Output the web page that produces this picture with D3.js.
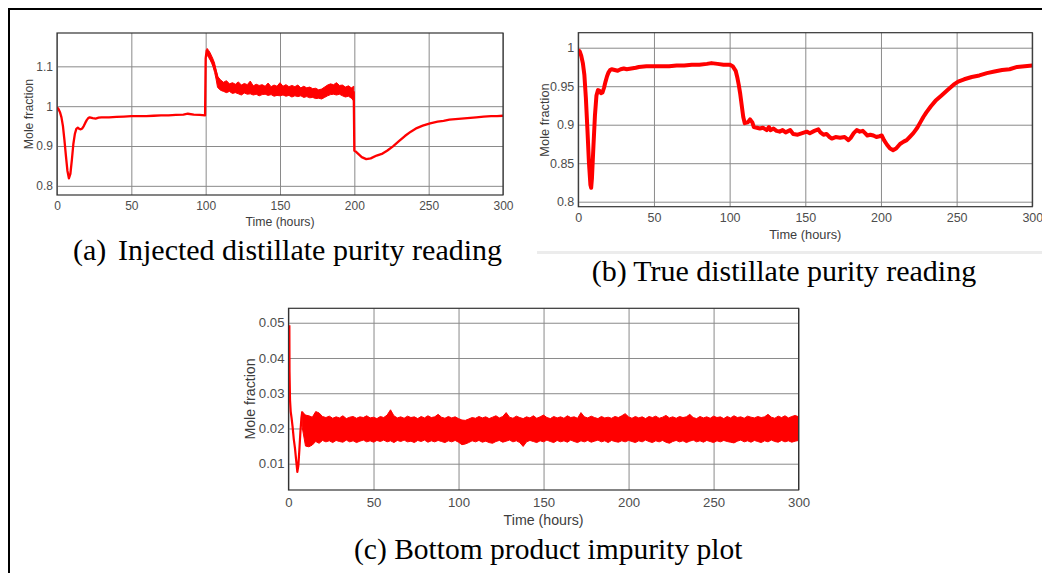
<!DOCTYPE html>
<html>
  <head>
    <meta charset="UTF-8" />
    <script src="https://d3js.org/d3.v7.min.js"></script>
    <style>
      body { margin: 0; background: #fff; }
      svg { display: block; }
    </style>
  </head>
  <body>
    <div id="chart"></div>
    <script>
      // x axis shared by all three panels
      const xTicks = [0, 50, 100, 150, 200, 250, 300];
      const xTickLabels = ["0", "50", "100", "150", "200", "250", "300"];

      // (a) injected distillate purity
      const aTime = [0, 1, 2, 3, 4, 5, 6, 7, 8, 9, 10, 11, 12, 13, 14, 15, 16, 17, 18, 19, 20, 21, 22, 24, 26, 28, 30, 35, 40, 45, 50, 55, 60, 65, 70, 75, 80, 85, 88, 92, 96, 99.6,
        100, 100.7, 101.5, 102.5, 103.5, 104.5, 105.5, 106.5, 107.5, 108.5, 110, 120, 140, 160, 175, 185, 199.6,
        200, 201, 203, 205, 208, 211, 215, 219, 222, 226, 230, 234, 238, 242, 246, 251, 256, 260, 264, 270, 276, 282, 287, 292, 296, 300];
      const aValue = [0.997, 0.993, 0.985, 0.972, 0.95, 0.915, 0.875, 0.838, 0.819, 0.83, 0.865, 0.905, 0.93, 0.943, 0.946, 0.943, 0.942, 0.944, 0.95, 0.958, 0.965, 0.97, 0.972, 0.97, 0.969, 0.971, 0.972, 0.972, 0.973, 0.974, 0.975, 0.975, 0.975, 0.976, 0.977, 0.977, 0.978, 0.979, 0.981, 0.979, 0.978, 0.977,
        1.12, 1.14, 1.135, 1.128, 1.118, 1.112, 1.104, 1.092, 1.078, 1.062, 1.055, 1.046, 1.041, 1.038, 1.03, 1.042, 1.035,
        0.888, 0.886, 0.879, 0.872, 0.867, 0.869, 0.876, 0.881, 0.888, 0.899, 0.912, 0.925, 0.936, 0.945, 0.951, 0.957, 0.961, 0.963, 0.966, 0.968, 0.97, 0.972, 0.974, 0.975, 0.975, 0.976];
      const aBandTime = [101, 102, 103, 104, 105, 106, 107, 108, 110, 112, 114, 116, 118, 120, 122, 124, 126, 128, 130, 132, 134, 136, 138, 140, 142, 144, 146, 148, 150, 152, 154,
        156, 158, 160, 162, 164, 166, 168, 170, 172, 174, 176, 178, 180, 182, 184, 186, 188, 190, 192, 194, 196, 198, 199.6];
      const aBandHigh = [1.145, 1.14, 1.134, 1.126, 1.118, 1.108, 1.09, 1.075, 1.066, 1.06, 1.064, 1.056, 1.059, 1.055, 1.061, 1.053, 1.057, 1.054, 1.063, 1.051, 1.055, 1.052, 1.054, 1.05, 1.058, 1.049, 1.053, 1.05, 1.059, 1.05, 1.054,
        1.049, 1.052, 1.049, 1.053, 1.046, 1.05, 1.046, 1.048, 1.044, 1.045, 1.041, 1.043, 1.048, 1.053, 1.056, 1.054, 1.059, 1.052, 1.053, 1.048, 1.051, 1.046, 1.05];
      const aBandLow = [1.128, 1.122, 1.116, 1.108, 1.098, 1.085, 1.068, 1.047, 1.04, 1.037, 1.034, 1.037, 1.032, 1.034, 1.031, 1.028, 1.033, 1.03, 1.031, 1.028, 1.03, 1.026, 1.029, 1.03, 1.027, 1.029, 1.025, 1.027, 1.026, 1.028, 1.025,
        1.027, 1.023, 1.026, 1.024, 1.026, 1.022, 1.024, 1.021, 1.022, 1.019, 1.02, 1.018, 1.022, 1.026, 1.029, 1.03, 1.028, 1.03, 1.026, 1.023, 1.025, 1.02, 1.013];
      const aYTicks = [0.8, 0.9, 1, 1.1];
      const aYTickLabels = ["0.8", "0.9", "1", "1.1"];

      // (b) true distillate purity
      const bTime = [0, 1, 2, 3, 4, 5, 6, 7, 8, 8.5, 9, 10, 11, 12, 13, 14, 15, 16, 17, 18, 19, 20, 21, 22, 24, 26, 28, 30, 32, 35, 38, 40, 45, 50, 55, 60, 65, 70, 75, 80, 85, 88, 92, 96, 100,
        102, 104, 105, 106, 107, 108, 109, 110, 112, 113.5, 115, 116, 118, 120, 122, 124.5, 126, 127, 129, 131, 133, 135, 137, 140, 142, 145, 148, 151, 153, 156, 158.6, 160, 162, 164, 166, 167.5,
        170, 173, 176, 178.5, 180, 182, 184, 186, 188, 189.5, 191, 193, 195, 197, 199, 200.5, 202, 204, 206, 208, 210, 212.6, 215, 217, 219, 221.4, 224, 226, 228, 230, 233, 236, 240, 244, 248,
        251, 255, 260, 265, 270, 275, 280, 285, 290, 295, 300];
      const bValue = [0.997, 0.995, 0.989, 0.98, 0.965, 0.935, 0.895, 0.852, 0.822, 0.818, 0.83, 0.872, 0.912, 0.938, 0.945, 0.944, 0.941, 0.942, 0.948, 0.956, 0.963, 0.968, 0.971, 0.972, 0.971, 0.97, 0.972, 0.973, 0.972, 0.973, 0.974, 0.975, 0.976, 0.976, 0.976, 0.976, 0.977, 0.977, 0.978, 0.978, 0.979, 0.98, 0.979, 0.978, 0.978,
        0.976, 0.97, 0.962, 0.952, 0.94, 0.925, 0.91, 0.902, 0.903, 0.907, 0.903, 0.897, 0.896, 0.895, 0.896, 0.893, 0.897, 0.893, 0.895, 0.892, 0.891, 0.893, 0.89, 0.893, 0.888, 0.887, 0.889, 0.891, 0.889, 0.892, 0.894, 0.89, 0.887, 0.888, 0.884, 0.882,
        0.884, 0.883, 0.884, 0.88, 0.883, 0.889, 0.893, 0.891, 0.892, 0.889, 0.886, 0.887, 0.886, 0.884, 0.885, 0.886, 0.88, 0.874, 0.869, 0.867, 0.869, 0.875, 0.878, 0.88, 0.884, 0.889, 0.896, 0.903, 0.91, 0.916, 0.924, 0.931, 0.938, 0.945, 0.952,
        0.956, 0.959, 0.962, 0.964, 0.967, 0.969, 0.971, 0.972, 0.975, 0.976, 0.977];
      const bYTicks = [0.8, 0.85, 0.9, 0.95, 1];
      const bYTickLabels = ["0.8", "0.85", "0.9", "0.95", "1"];

      // (c) bottom product impurity
      const cTime = [0.5, 0.6, 0.9, 1.3, 1.8, 2.4, 3.1, 3.8, 4.5, 5.2, 5.8, 6.4, 7, 7.6, 8.1];
      const cValue = [0.0493, 0.036, 0.028, 0.0248, 0.023, 0.0205, 0.017, 0.0144, 0.011, 0.0077, 0.0095, 0.014, 0.019, 0.023, 0.0248];
      const cBandTime = [8, 10, 12, 14, 16, 18, 20, 22, 24, 26, 28, 30, 32, 34, 36, 38, 40, 42, 44, 46, 48, 50, 52, 54, 56, 58, 60, 62, 64, 66, 68, 70, 72, 74, 76, 78,
        80, 82, 84, 86, 88, 90, 92, 94, 96, 98, 100, 102, 104, 106, 108, 110, 112, 114, 116, 118, 120, 122, 124, 126, 128, 130, 132, 134, 136, 138, 140, 142, 144, 146, 148,
        150, 152, 154, 156, 158, 160, 162, 164, 166, 168, 170, 172, 174, 176, 178, 180, 182, 184, 186, 188, 190, 192, 194, 196, 198, 200, 202, 204, 206, 208, 210, 212, 214, 216, 218,
        220, 222, 224, 226, 228, 230, 232, 234, 236, 238, 240, 242, 244, 246, 248, 250, 252, 254, 256, 258, 260, 262, 264, 266, 268, 270, 272, 274, 276, 278, 280, 282, 284, 286, 288,
        290, 292, 294, 296, 298, 300];
      const cBandHigh = [0.0248, 0.0238, 0.0236, 0.0232, 0.0248, 0.0244, 0.0234, 0.0231, 0.0235, 0.0229, 0.0233, 0.023, 0.0236, 0.0228, 0.0232, 0.0234, 0.0229, 0.0233, 0.0231, 0.0236, 0.023, 0.0232, 0.0228, 0.0234, 0.0231, 0.0238, 0.0253, 0.0236, 0.023, 0.0233, 0.0229, 0.0235, 0.0231, 0.0233, 0.0228, 0.0234,
        0.023, 0.0236, 0.0231, 0.0233, 0.024, 0.0232, 0.0229, 0.0234, 0.023, 0.0233, 0.0228, 0.0224, 0.0223, 0.0227, 0.0231, 0.0229, 0.0234, 0.023, 0.0233, 0.0228, 0.0232, 0.0236, 0.023, 0.0234, 0.0245, 0.0232, 0.0229, 0.0235, 0.0231, 0.0228, 0.0233, 0.023, 0.0236, 0.0229, 0.0233,
        0.0238, 0.0231, 0.0228, 0.0234, 0.023, 0.0233, 0.0229, 0.0236, 0.0231, 0.0233, 0.0229, 0.0245, 0.0233, 0.023, 0.0235, 0.0231, 0.0228, 0.0234, 0.023, 0.0232, 0.0229, 0.0234, 0.0231, 0.0236, 0.0242, 0.0233, 0.0229, 0.0234, 0.023, 0.0233, 0.0228, 0.0234, 0.0231, 0.0235, 0.0229,
        0.0232, 0.0237, 0.023, 0.0233, 0.0229, 0.0234, 0.0231, 0.0233, 0.024, 0.0231, 0.0228, 0.0234, 0.023, 0.0233, 0.0229, 0.0235, 0.0231, 0.0233, 0.0228, 0.0234, 0.023, 0.0236, 0.0231, 0.0233, 0.0229, 0.0235, 0.0232, 0.023, 0.0234, 0.0231, 0.0233, 0.024, 0.0232, 0.0229, 0.0235,
        0.0231, 0.0236, 0.023, 0.0234, 0.0237, 0.0233];
      const cBandLow = [0.0205, 0.015, 0.0148, 0.0153, 0.0163, 0.0158, 0.0166, 0.0162, 0.0165, 0.016, 0.0166, 0.0163, 0.0161, 0.0167, 0.0162, 0.0165, 0.016, 0.0164, 0.0167, 0.0162, 0.0165, 0.0161, 0.0166, 0.0163, 0.0167, 0.0162, 0.0165, 0.016, 0.0166, 0.0163, 0.0167, 0.0162, 0.0164, 0.016, 0.0166, 0.0163,
        0.0167, 0.0161, 0.0165, 0.0162, 0.0166, 0.0163, 0.016, 0.0165, 0.0162, 0.0166, 0.0161, 0.0154, 0.0156, 0.016, 0.0165, 0.0162, 0.0166, 0.0161, 0.0164, 0.016, 0.0158, 0.0163, 0.0166, 0.0161, 0.0164, 0.0167, 0.0162, 0.0165, 0.016, 0.0149, 0.0162, 0.0166, 0.0163, 0.016, 0.0165,
        0.0162, 0.0167, 0.0163, 0.016, 0.0166, 0.0162, 0.0165, 0.0161, 0.0167, 0.0163, 0.016, 0.0165, 0.0162, 0.0166, 0.0161, 0.0164, 0.0167, 0.0162, 0.0165, 0.016, 0.0166, 0.0163, 0.0161, 0.0165, 0.0162, 0.0166, 0.0163, 0.016, 0.0165, 0.0162, 0.0167, 0.0163, 0.016, 0.0165, 0.0162,
        0.0166, 0.0161, 0.0158, 0.0163, 0.0166, 0.0162, 0.0165, 0.016, 0.0164, 0.0167, 0.0162, 0.0165, 0.0161, 0.0166, 0.0163, 0.016, 0.0165, 0.0162, 0.0166, 0.0163, 0.0161, 0.0159, 0.0164, 0.0167, 0.0162, 0.0165, 0.0161, 0.0166, 0.0163, 0.016, 0.0165, 0.0162, 0.0167, 0.0163, 0.0161,
        0.0166, 0.0162, 0.0165, 0.0161, 0.0164, 0.0166];
      const cYTicks = [0.01, 0.02, 0.03, 0.04, 0.05];
      const cYTickLabels = ["0.01", "0.02", "0.03", "0.04", "0.05"];

      const yLabel = "Mole fraction";
      const xLabel = "Time (hours)";

      const W = 1042, H = 573;
      const svg = d3.select("#chart").append("svg").attr("width", W).attr("height", H);

      // outer frame (only top and left edges are in view)
      svg.append("path")
        .attr("d", "M9," + H + "V9H" + W)
        .attr("fill", "none")
        .attr("stroke", "#000")
        .attr("stroke-width", 2);

      // faint rule under panel (b)
      svg.append("rect")
        .attr("x", 537).attr("y", 251)
        .attr("width", W - 537).attr("height", 3)
        .attr("fill", "#ececec");

      function drawPanel(p) {
        const x = d3.scaleLinear().domain([0, 300]).range([p.left, p.right]);
        const y = d3.scaleLinear().domain(p.yDomain).range([p.bottom, p.top]);
        const g = svg.append("g");

        // grid
        g.append("g")
          .attr("transform", "translate(0," + p.bottom + ")")
          .call(d3.axisBottom(x).tickValues(xTicks).tickSize(-(p.bottom - p.top)).tickFormat(""))
          .call(s => s.select(".domain").remove())
          .selectAll("line").attr("stroke", "#8a8a8a").attr("stroke-width", 1);
        g.append("g")
          .attr("transform", "translate(" + p.left + ",0)")
          .call(d3.axisLeft(y).tickValues(p.yTicks).tickSize(-(p.right - p.left)).tickFormat(""))
          .call(s => s.select(".domain").remove())
          .selectAll("line").attr("stroke", "#8a8a8a").attr("stroke-width", 1);

        // tick labels
        const xAx = g.append("g")
          .attr("transform", "translate(0," + p.bottom + ")")
          .call(d3.axisBottom(x).tickValues(xTicks).tickSize(0).tickPadding(0)
            .tickFormat((d, i) => xTickLabels[i]));
        xAx.select(".domain").remove();
        xAx.selectAll("text")
          .attr("y", p.xTickDy).attr("dy", "0.35em")
          .attr("fill", "#4d4d4d")
          .attr("font-family", "Liberation Sans, Arial, sans-serif")
          .attr("font-size", p.tickSize);

        const yAx = g.append("g")
          .attr("transform", "translate(" + p.left + ",0)")
          .call(d3.axisLeft(y).tickValues(p.yTicks).tickSize(0).tickPadding(4)
            .tickFormat((d, i) => p.yTickLabels[i]));
        yAx.select(".domain").remove();
        yAx.selectAll("text")
          .attr("fill", "#4d4d4d")
          .attr("font-family", "Liberation Sans, Arial, sans-serif")
          .attr("font-size", p.tickSize);

        // data
        const clipId = "clip" + p.id;
        svg.append("clipPath").attr("id", clipId)
          .append("rect")
          .attr("x", p.left).attr("y", p.top)
          .attr("width", p.right - p.left).attr("height", p.bottom - p.top);
        const plot = g.append("g").attr("clip-path", "url(#" + clipId + ")");

        const line = d3.line().x(d => x(d[0])).y(d => y(d[1]));
        plot.append("path")
          .attr("d", line(d3.zip(p.time, p.value)))
          .attr("fill", "none")
          .attr("stroke", "#ff0000")
          .attr("stroke-width", p.lineWidth)
          .attr("stroke-linejoin", "round");

        if (p.bandTime) {
          const area = d3.area().x(d => x(d[0])).y0(d => y(d[1])).y1(d => y(d[2]));
          plot.append("path")
            .attr("d", area(d3.zip(p.bandTime, p.bandLow, p.bandHigh)))
            .attr("fill", "#ff0000")
            .attr("stroke", "#ff0000")
            .attr("stroke-width", 1);
        }

        // box
        g.append("rect")
          .attr("x", p.left).attr("y", p.top)
          .attr("width", p.right - p.left).attr("height", p.bottom - p.top)
          .attr("fill", "none")
          .attr("stroke", "#333")
          .attr("stroke-width", 1.2);

        // axis titles
        g.append("text")
          .attr("x", (p.left + p.right) / 2).attr("y", p.bottom + p.xLabelDy)
          .attr("dy", "0.35em")
          .attr("text-anchor", "middle")
          .attr("fill", "#3d3d3d")
          .attr("font-family", "Liberation Sans, Arial, sans-serif")
          .attr("font-size", p.labelSize)
          .text(xLabel);
        g.append("text")
          .attr("transform", "translate(" + (p.left - p.yLabelDx) + "," + p.yLabelY + ") rotate(-90)")
          .attr("dy", "0.35em")
          .attr("text-anchor", "middle")
          .attr("fill", "#3d3d3d")
          .attr("font-family", "Liberation Sans, Arial, sans-serif")
          .attr("font-size", p.labelSize)
          .text(yLabel);

        // caption
        const cap = svg.append("text")
          .attr("y", p.capY)
          .attr("fill", "#000")
          .attr("font-family", "Liberation Serif, Times New Roman, serif")
          .attr("font-size", p.capSize);
        cap.append("tspan").attr("x", p.capX).text(p.capTag);
        cap.append("tspan").attr("x", p.capX2).text(p.capText);
      }

      drawPanel({
        id: "a", left: 57, right: 503, top: 33, bottom: 195,
        yDomain: [0.777, 1.1837], yTicks: aYTicks, yTickLabels: aYTickLabels,
        time: aTime, value: aValue, lineWidth: 2.3,
        bandTime: aBandTime, bandLow: aBandLow, bandHigh: aBandHigh,
        tickSize: 12, labelSize: 12.3, xTickDy: 11, xLabelDy: 27, yLabelDx: 28, yLabelY: 114,
        capTag: "(a)", capText: "Injected distillate purity reading",
        capX: 73, capX2: 118, capY: 260, capSize: 30
      });

      drawPanel({
        id: "b", left: 578.3, right: 1032.3, top: 32.7, bottom: 206.7,
        yDomain: [0.7935, 1.0195], yTicks: bYTicks, yTickLabels: bYTickLabels,
        time: bTime, value: bValue, lineWidth: 4,
        tickSize: 12.5, labelSize: 12.8, xTickDy: 11.3, xLabelDy: 28.3, yLabelDx: 34, yLabelY: 120,
        capTag: "(b)", capText: "True distillate purity reading",
        capX: 591.7, capX2: 591.7 + 41.5, capY: 281, capSize: 30
      });

      drawPanel({
        id: "c", left: 288.5, right: 798.6, top: 308.3, bottom: 490,
        yDomain: [0.00254, 0.0541], yTicks: cYTicks, yTickLabels: cYTickLabels,
        time: cTime, value: cValue, lineWidth: 2.2,
        bandTime: cBandTime, bandLow: cBandLow, bandHigh: cBandHigh,
        tickSize: 13.2, labelSize: 14.2, xTickDy: 12, xLabelDy: 30, yLabelDx: 38, yLabelY: 399,
        capTag: "(c)", capText: "Bottom product impurity plot",
        capX: 354, capX2: 354 + 40.2, capY: 559, capSize: 29.5
      });
    </script>
  </body>
</html>
